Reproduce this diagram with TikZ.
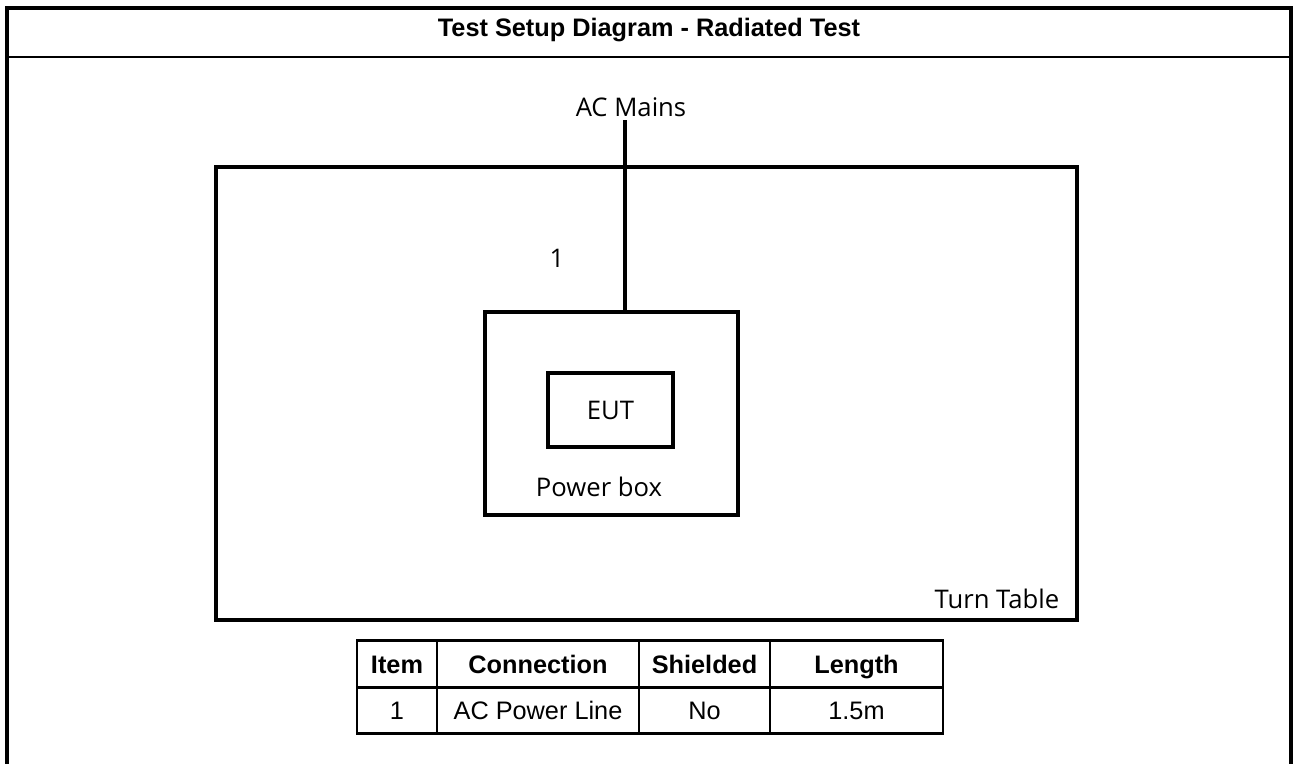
\documentclass[tikz,border=0pt]{standalone}
\usepackage{fontspec}
\setmainfont{Liberation Sans}
\newfontfamily\labelfont{Open Sans}
\usetikzlibrary{positioning}

\begin{document}
\begin{tikzpicture}[
    x=0.02cm, y=-0.02cm,
    frame/.style={line width=2.5pt},
    rule/.style={line width=1.4pt},
    box/.style={draw, line width=2pt, inner sep=0pt},
    wire/.style={line width=1.9pt},
    lbl/.style={font=\labelfont\fontsize{14.6}{17}\selectfont, inner sep=2pt},
    cell/.style={draw, line width=1.5pt, minimum height=0.93cm, inner sep=0pt,
        text height=10.3pt, text depth=0pt, font=\fontsize{14.4}{17}\selectfont},
    hcell/.style={cell, font=\bfseries\fontsize{14.4}{17}\selectfont}
]
    \useasboundingbox (0,0) rectangle (1296,764);

    % Outer frame and title row
    \draw[frame] (7,764) -- (7,8) -- (1291,8) -- (1291,764);
    \draw[rule] (7,57) -- (1291,57);
    \node[font=\bfseries\fontsize{14.4}{17}\selectfont] (title) at (649,30) {Test Setup Diagram - Radiated Test};

    % Turn table, power box and EUT
    \node[box, minimum width=17.22cm, minimum height=9.06cm] (table) at (646.5,393.5) {};
    \node[box, minimum width=5.06cm, minimum height=4.06cm] (pwr) at (611.5,413.5) {};
    \node[box, lbl, inner sep=0pt, minimum width=2.5cm, minimum height=1.48cm] (eut) at (610.5,410) {EUT};
    \node[lbl] (pwrlbl) at (599,487) {Power box};
    \node[lbl] (ttlbl) at (997,599) {Turn Table};

    % AC mains feed
    \node[lbl] (mains) at (631,107) {AC Mains};
    \coordinate (feed) at (625,312);
    \draw[wire] (feed |- mains.south) -- (feed);
    \node[lbl] (item) at (557,258) {1};

    % Cable table
    \node[hcell, minimum width=1.6cm] (h1) at (397,664) {Item};
    \node[hcell, minimum width=4.04cm] (h2) at (538,664) {Connection};
    \node[hcell, minimum width=2.62cm] (h3) at (704.5,664) {Shielded};
    \node[hcell, minimum width=3.46cm] (h4) at (856.5,664) {Length};
    \node[cell, minimum width=1.6cm] (c1) at (397,710.5) {1};
    \node[cell, minimum width=4.04cm] (c2) at (538,710.5) {AC Power Line};
    \node[cell, minimum width=2.62cm] (c3) at (704.5,710.5) {No};
    \node[cell, minimum width=3.46cm] (c4) at (856.5,710.5) {1.5m};
\end{tikzpicture}
\end{document}
